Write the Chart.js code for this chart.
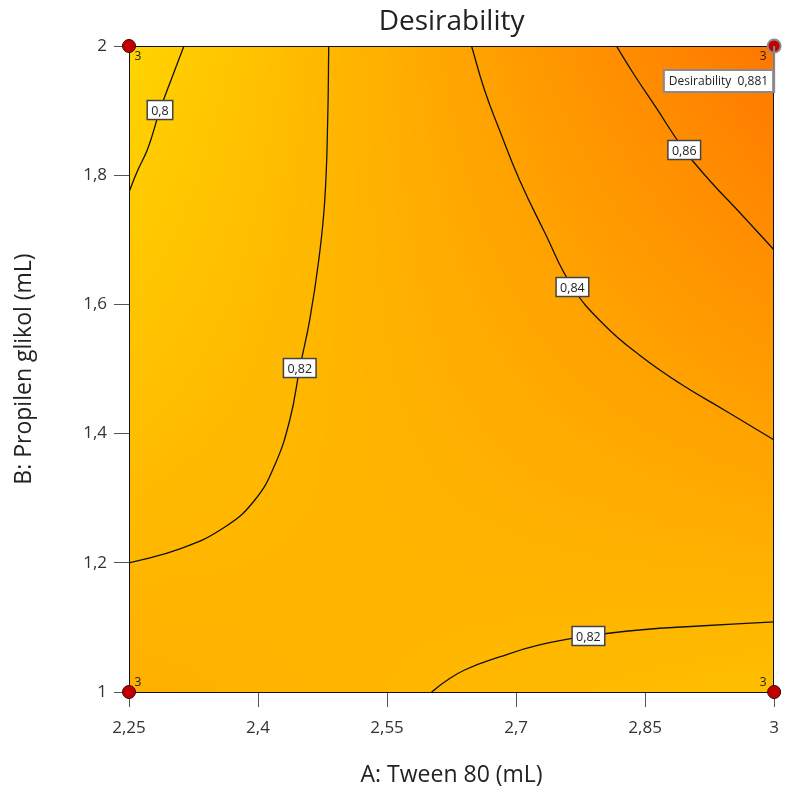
<!DOCTYPE html>
<html>
<head>
<meta charset="utf-8">
<script src="https://cdn.jsdelivr.net/npm/chart.js@4.4.0/dist/chart.umd.min.js"></script>
<style>
  html, body { margin: 0; padding: 0; background: #fff; }
  #wrap { width: 790px; height: 794px; }
</style>
</head>
<body>
<div id="wrap"><canvas id="myChart"></canvas></div>
<script>
// axis ticks
const xTickValues = [2.25, 2.4, 2.55, 2.7, 2.85, 3];
const xTickLabels = ['2,25', '2,4', '2,55', '2,7', '2,85', '3'];
const yTickValues = [1, 1.2, 1.4, 1.6, 1.8, 2];
const yTickLabels = ['1', '1,2', '1,4', '1,6', '1,8', '2'];

// desirability at the corners of the design space
// rows: B = 1, B = 2 ; columns: A = 2.25, A = 3
const cornerA = [2.25, 3];
const cornerB = [1, 2];
const cornerDesirability = [[0.827, 0.812], [0.792, 0.881]];

// contour lines, [A, B]
const contour080 = [[2.3139, 2], [2.3011, 1.9551], [2.2860, 1.9009], [2.2721, 1.8421], [2.2593, 1.8050], [2.25, 1.7740]];
const contour082a = [[2.4822, 2], [2.4810, 1.8854], [2.4776, 1.7616], [2.4706, 1.6687], [2.4601, 1.5759], [2.4485, 1.5015],
    [2.4369, 1.4210], [2.4195, 1.3514], [2.3963, 1.2972], [2.3615, 1.2554], [2.3092, 1.2214], [2.25, 1.1997]];
const contour082b = [[2.6018, 1], [2.6169, 1.0155], [2.6401, 1.0341], [2.6807, 1.0542], [2.7272, 1.0728], [2.7841, 1.0867],
    [2.8433, 1.0960], [2.9129, 1.1022], [3, 1.1084]];
const contour084 = [[2.6482, 2], [2.6633, 1.9319], [2.6807, 1.8700], [2.7040, 1.7926], [2.7330, 1.7121], [2.7655, 1.6269],
    [2.8026, 1.5681], [2.8433, 1.5217], [2.8897, 1.4783], [2.9420, 1.4365], [3, 1.3901]];
const contour086 = [[2.8166, 2], [2.8375, 1.9551], [2.8607, 1.9087], [2.8955, 1.8390], [2.9245, 1.7926], [2.9594, 1.7430], [3, 1.6842]];

const contourLines = [contour080, contour082a, contour082b, contour084, contour086];
const contourLevels = ['0,8', '0,82', '0,82', '0,84', '0,86'];
const contourLabelIndex = [2, 5, 5, 5, 3];

// design points, 3 replicates each
const designA = [2.25, 2.25, 3, 3];
const designB = [1, 2, 1, 2];
const designReps = ['3', '3', '3', '3'];

// flagged point
const flagA = 3;
const flagB = 2;
const flagLabel = 'Desirability';
const flagValue = '0,881';

const FONT = "'Open Sans', 'Noto Sans', sans-serif";

const ctx = document.getElementById('myChart').getContext('2d');

function desirabilityColor(d) {
    let g = 210 - (d - 0.794) * 1053;
    g = Math.max(100, Math.min(215, g));
    return [255, Math.round(g), 0];
}

// colour field behind the contours
const fieldPlugin = {
    id: 'field',
    beforeDatasetsDraw(chart) {
        const {ctx, chartArea: {left, top, right, bottom}, scales: {x, y}} = chart;
        const l = Math.round(left), t = Math.round(top);
        const w = Math.round(right) - l, h = Math.round(bottom) - t;
        const img = ctx.createImageData(w, h);
        for (let j = 0; j < h; j++) {
            const v = (y.getValueForPixel(t + j + 0.5) - cornerB[0]) / (cornerB[1] - cornerB[0]);
            for (let i = 0; i < w; i++) {
                const u = (x.getValueForPixel(l + i + 0.5) - cornerA[0]) / (cornerA[1] - cornerA[0]);
                const d = cornerDesirability[0][0] * (1 - u) * (1 - v) + cornerDesirability[0][1] * u * (1 - v)
                    + cornerDesirability[1][0] * (1 - u) * v + cornerDesirability[1][1] * u * v;
                const c = desirabilityColor(d);
                const k = (j * w + i) * 4;
                img.data[k] = c[0];
                img.data[k + 1] = c[1];
                img.data[k + 2] = c[2];
                img.data[k + 3] = 255;
            }
        }
        ctx.putImageData(img, l, t);

        ctx.save();
        ctx.strokeStyle = '#111';
        ctx.lineWidth = 1;
        ctx.strokeRect(l + 0.5, t + 0.5, w - 1, h);
        ctx.restore();
    }
};

// contour labels, replicate counts and the flag
const annotations = {
    id: 'annotations',
    afterDatasetsDraw(chart) {
        const {ctx, scales: {x, y}} = chart;
        ctx.save();
        ctx.font = '12.5px ' + FONT;
        ctx.textAlign = 'center';
        ctx.textBaseline = 'middle';
        contourLines.forEach((line, i) => {
            const p = line[contourLabelIndex[i]];
            const px = x.getPixelForValue(p[0]);
            const py = y.getPixelForValue(p[1]);
            const tw = ctx.measureText(contourLevels[i]).width + 8;
            ctx.fillStyle = '#fff';
            ctx.fillRect(px - tw / 2, py - 9.5, tw, 19);
            ctx.strokeStyle = '#444';
            ctx.lineWidth = 1.5;
            ctx.strokeRect(px - tw / 2, py - 9.5, tw, 19);
            ctx.fillStyle = '#222';
            ctx.fillText(contourLevels[i], px, py + 1);
        });

        // flag pole and box
        const fx = x.getPixelForValue(flagA);
        const fy = y.getPixelForValue(flagB);
        ctx.strokeStyle = '#8a8a8a';
        ctx.lineWidth = 2;
        ctx.beginPath();
        ctx.moveTo(fx, fy);
        ctx.lineTo(fx, fy + 47);
        ctx.stroke();
        ctx.font = '12px ' + FONT;
        const txt = flagLabel + '  ' + flagValue;
        const bw = ctx.measureText(txt).width + 10;
        ctx.fillStyle = '#fff';
        ctx.fillRect(fx - bw - 1, fy + 24, bw, 22);
        ctx.strokeStyle = '#8a8a8a';
        ctx.strokeRect(fx - bw - 1, fy + 24, bw, 22);
        ctx.fillStyle = '#222';
        ctx.textAlign = 'left';
        ctx.fillText(txt, fx - bw + 4, fy + 35.5);

        // replicate counts
        ctx.font = '12px ' + FONT;
        ctx.fillStyle = '#222';
        ctx.textAlign = 'center';
        designA.forEach((a, i) => {
            const px = x.getPixelForValue(a);
            const py = y.getPixelForValue(designB[i]);
            const dx = a === cornerA[0] ? 9 : -11;
            const dy = designB[i] === cornerB[0] ? -9 : 11;
            ctx.fillText(designReps[i], px + dx, py + dy);
        });
        ctx.restore();
    }
};

const contourDatasets = contourLines.map((line, i) => ({
    type: 'scatter',
    label: contourLevels[i],
    data: line.map(p => ({x: p[0], y: p[1]})),
    showLine: true,
    borderColor: '#111',
    borderWidth: 1.3,
    pointRadius: 0,
    tension: 0.45,
    fill: false
}));

const chart = new Chart(ctx, {
    type: 'scatter',
    data: {
        datasets: [{
            label: 'Design points',
            data: designA.map((a, i) => ({x: a, y: designB[i]})),
            pointRadius: 6.5,
            pointBackgroundColor: '#c00000',
            pointBorderColor: designA.map((a, i) => (a === flagA && designB[i] === flagB) ? '#8a8a8a' : '#3a0000'),
            pointBorderWidth: designA.map((a, i) => (a === flagA && designB[i] === flagB) ? 2 : 1),
            clip: false
        }, ...contourDatasets]
    },
    options: {
        responsive: true,
        maintainAspectRatio: false,
        animation: false,
        events: [],
        layout: {padding: {left: 0, right: 15, top: 0, bottom: 0}},
        plugins: {
            legend: {display: false},
            tooltip: {enabled: false},
            title: {
                display: true,
                text: 'Desirability',
                fullSize: false,
                color: '#222',
                font: {family: FONT, size: 28, weight: 'normal'},
                padding: {top: 5, bottom: 7.4}
            }
        },
        scales: {
            x: {
                type: 'linear',
                min: 2.25,
                max: 3,
                afterBuildTicks: s => { s.ticks = xTickValues.map(v => ({value: v})); },
                afterFit: s => { s.height = 102; },
                ticks: {
                    callback: v => xTickLabels[xTickValues.indexOf(v)],
                    color: '#333',
                    font: {family: FONT, size: 17},
                    padding: 11,
                    maxRotation: 0
                },
                grid: {drawOnChartArea: false, drawTicks: true, tickLength: 15, color: '#555'},
                border: {display: false},
                title: {
                    display: true,
                    text: 'A: Tween 80 (mL)',
                    color: '#222',
                    font: {family: FONT, size: 23},
                    padding: {top: 0, bottom: 5}
                }
            },
            y: {
                type: 'linear',
                min: 1,
                max: 2,
                afterBuildTicks: s => { s.ticks = yTickValues.map(v => ({value: v})); },
                afterFit: s => { s.width = 129; },
                ticks: {
                    callback: v => yTickLabels[yTickValues.indexOf(v)],
                    color: '#333',
                    font: {family: FONT, size: 17},
                    padding: 7
                },
                grid: {drawOnChartArea: false, drawTicks: true, tickLength: 15, color: '#555'},
                border: {display: false},
                title: {
                    display: true,
                    text: 'B: Propilen glikol (mL)',
                    color: '#222',
                    font: {family: FONT, size: 23},
                    padding: {top: 11, bottom: 0}
                }
            }
        }
    },
    plugins: [fieldPlugin, annotations]
});
</script>
</body>
</html>
